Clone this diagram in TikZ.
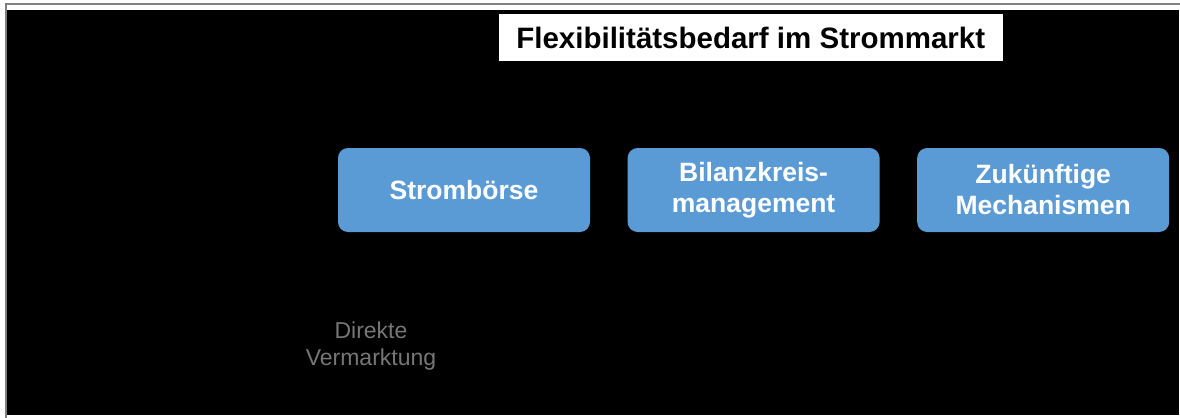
\documentclass[tikz,border=0pt]{standalone}
\usepackage{fontspec}
\setmainfont{Liberation Sans}
\usetikzlibrary{positioning}
\definecolor{boxblue}{RGB}{91,155,213}
\definecolor{framegray}{RGB}{128,128,128}
\definecolor{notegray}{RGB}{118,118,118}
\begin{document}
\begin{tikzpicture}[x=0.5pt,y=-0.5pt,
    market/.style={fill=boxblue, rounded corners=5pt, minimum width=126pt, minimum height=42pt,
      inner sep=0pt, text=white, align=center, font=\bfseries\fontsize{13.25}{15.5}\selectfont}]
  \useasboundingbox (0,0) rectangle (1180,418);
  \fill[white] (0,0) rectangle (1180,418);
  \fill[framegray] (5.3,3.3) rectangle (1180,5);
  \fill[framegray] (5.3,3.3) rectangle (7.3,418);
  \fill[black] (7.3,9.7) rectangle (1179,415);

  \node[fill=white, minimum width=252.25pt, minimum height=23.5pt, inner sep=0pt,
    font=\bfseries\fontsize{14.75}{17}\selectfont] (title) at (750.75,37.5) {Flexibilitätsbedarf im Strommarkt};

  \node[market] (boerse) at (464,190) {Strombörse};
  \node[market, right=18.4pt of boerse] (bilanz) {Bilanzkreis-\\management};
  \node[market, right=18.4pt of bilanz] (zukunft) {Zukünftige\\Mechanismen};

  \node[text=notegray, align=center, font=\fontsize{11.5}{13.5}\selectfont] (direkt) at (371,346) {Direkte\\Vermarktung};
\end{tikzpicture}
\end{document}
